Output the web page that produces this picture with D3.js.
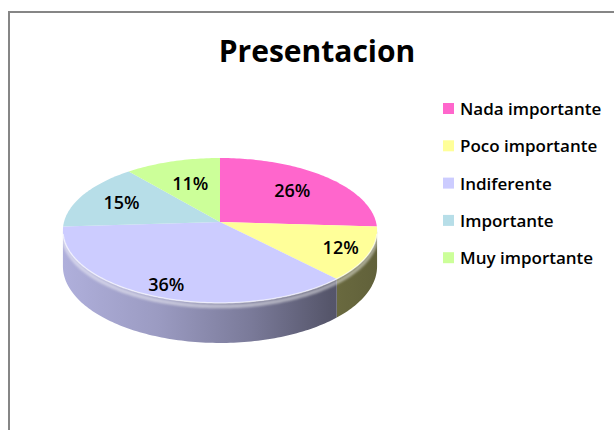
<!DOCTYPE html>
<html>
<head>
<meta charset="utf-8">
<script src="https://cdn.jsdelivr.net/npm/d3@7"></script>
<style>
  body { margin: 0; background: #fff; }
  svg { display: block; }
</style>
</head>
<body>
<svg id="chart" width="614" height="430"></svg>
<script>
// chart data
const categories = ["Nada importante", "Poco importante", "Indiferente", "Importante", "Muy importante"];
const values = [26, 12, 36, 15, 11];
const colors = ["#ff66cc", "#ffff99", "#ccccff", "#b7dee8", "#ccff99"];
const chartTitle = "Presentacion";

const svg = d3.select("#chart");

// outer chart frame (right/bottom edges run off the picture)
svg.append("rect")
  .attr("x", 9).attr("y", 12)
  .attr("width", 700).attr("height", 500)
  .attr("fill", "#fff")
  .attr("stroke", "#868686")
  .attr("stroke-width", 2);

svg.append("text")
  .attr("x", 317).attr("y", 62)
  .attr("text-anchor", "middle")
  .style("font-family", "'Open Sans', 'Noto Sans', sans-serif")
  .style("font-weight", 700)
  .style("font-size", "30px")
  .text(chartTitle);

// 3d pie geometry, simple perspective: front half is drawn larger
const cx = 220, cy = 222, a = 156, b = 71.5, k = 0.117, depth = 35.3;
const labelR = [0.67, 0.82, 0.85, 0.71, 0.6]; // label distance from centre, per slice

const pie = d3.pie().sort(null).value(d => d)(values);
const total = d3.sum(values);

// angle t: 0 at 12 o'clock (back), clockwise; v = +1 at the front
function proj(t, r = 1, down = 0) {
  const u = r * Math.sin(t), v = -r * Math.cos(t);
  const w = 1 - k * v;
  return [cx + a * u / w, cy + b * v / w + down / w];
}

function arcPts(t0, t1, down = 0) {
  const n = Math.max(2, Math.ceil((t1 - t0) / 0.02));
  return d3.range(n + 1).map(i => proj(t0 + (t1 - t0) * i / n, 1, down));
}

const line = d3.line();
const defs = svg.append("defs");

// side shading: light on the left, dark on the right
const shade = [[0, 0.86], [0.3, 0.76], [0.6, 0.6], [0.85, 0.42], [1, 0.38]];
colors.forEach((c, i) => {
  const g = defs.append("linearGradient")
    .attr("id", "side" + i)
    .attr("gradientUnits", "userSpaceOnUse")
    .attr("x1", cx - a).attr("x2", cx + a)
    .attr("y1", 0).attr("y2", 0);
  const base = d3.rgb(c);
  shade.forEach(([o, f]) => {
    g.append("stop")
      .attr("offset", o)
      .attr("stop-color", d3.rgb(base.r * f, base.g * f, base.b * f));
  });
});

const blur = defs.append("filter").attr("id", "soft")
  .attr("x", "-5%").attr("y", "-20%").attr("width", "110%").attr("height", "140%");
blur.append("feGaussianBlur").attr("stdDeviation", 1.2);

const pieG = svg.append("g");

// side walls, visible between the silhouette points
const tFront0 = Math.acos(-k), tFront1 = 2 * Math.PI - Math.acos(-k);
pie.forEach((d, i) => {
  const t0 = Math.max(d.startAngle, tFront0);
  const t1 = Math.min(d.endAngle, tFront1);
  if (t1 <= t0) return;
  const top = arcPts(t0, t1);
  const bottom = arcPts(t0, t1, depth).reverse();
  pieG.append("path")
    .attr("d", line(top.concat(bottom)) + "Z")
    .attr("fill", `url(#side${i})`);
});

// soft bevel along the front edge
pieG.append("path")
  .attr("d", line(arcPts(tFront0, tFront1, 3)))
  .attr("fill", "none")
  .attr("stroke", "#fff")
  .attr("stroke-opacity", 0.45)
  .attr("stroke-width", 4)
  .attr("filter", "url(#soft)");

// top faces
pie.forEach((d, i) => {
  const pts = [proj(0, 0)].concat(arcPts(d.startAngle, d.endAngle));
  pieG.append("path")
    .attr("d", line(pts) + "Z")
    .attr("fill", colors[i]);
});

pieG.append("path")
  .attr("d", line(arcPts(tFront0 + 0.05, tFront1 - 0.05)))
  .attr("fill", "none")
  .attr("stroke", "#fff")
  .attr("stroke-opacity", 0.6)
  .attr("stroke-width", 1.5);

// percentage labels
pie.forEach((d, i) => {
  const mid = (d.startAngle + d.endAngle) / 2;
  const [lx, ly] = proj(mid, labelR[i]);
  pieG.append("text")
    .attr("x", lx)
    .attr("y", ly)
    .attr("text-anchor", "middle")
    .attr("dy", "0.35em")
    .style("font-family", "'Open Sans', 'Noto Sans', sans-serif")
    .style("font-weight", 600)
    .style("font-size", "18px")
    .text(Math.round(d.value / total * 100) + "%");
});

// legend
const legend = svg.append("g").attr("transform", "translate(443, 109)");
const item = legend.selectAll("g")
  .data(categories)
  .join("g")
  .attr("transform", (d, i) => `translate(0, ${i * 37.3})`);

item.append("rect")
  .attr("x", 0).attr("y", -6)
  .attr("width", 11).attr("height", 11)
  .attr("fill", (d, i) => colors[i]);

item.append("text")
  .attr("x", 17)
  .attr("y", 0)
  .attr("dy", "0.35em")
  .style("font-family", "'Open Sans', 'Noto Sans', sans-serif")
  .style("font-weight", 600)
  .style("font-size", "17px")
  .text(d => d);
</script>
</body>
</html>
